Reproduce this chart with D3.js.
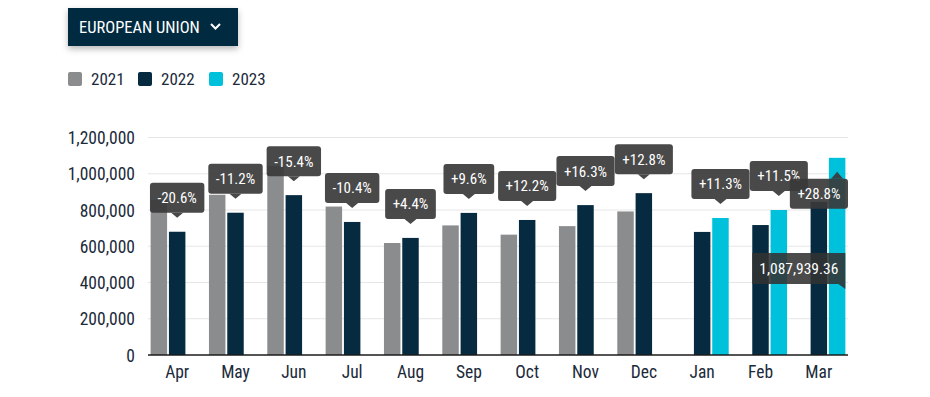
<!DOCTYPE html>
<html>
<head>
<meta charset="utf-8">
<script src="https://cdn.jsdelivr.net/npm/d3@7"></script>
<style>
  html, body { margin: 0; padding: 0; background: #ffffff; }
  svg { display: block; }
  svg text { font-family: 'Roboto Condensed', Roboto, sans-serif; font-stretch: 87.5%; }
</style>
</head>
<body>
<svg id="chart" width="930" height="397"></svg>
<script>
const months = ["Apr","May","Jun","Jul","Aug","Sep","Oct","Nov","Dec","Jan","Feb","Mar"];
const seriesNames = ["2021","2022","2023"];
const values2021 = [856000, 884000, 1043000, 819000, 618000, 715000, 664000, 711000, 792000, null, null, null];
const values2022 = [680000, 785000, 882000, 734000, 646000, 784000, 745000, 827000, 893000, 679000, 717000, 845000];
const values2023 = [null, null, null, null, null, null, null, null, null, 756000, 800000, 1087939.36];
const changeLabels = ["-20.6%","-11.2%","-15.4%","-10.4%","+4.4%","+9.6%","+12.2%","+16.3%","+12.8%","+11.3%","+11.5%","+28.8%"];
const yTicks = [0, 200000, 400000, 600000, 800000, 1000000, 1200000];
const colors = ["#8a8c8d", "#062a40", "#00c1dc"];
const dropdownLabel = "EUROPEAN UNION";
const hoverIndex = 11, hoverSeries = 2;

const svg = d3.select("#chart");
const defs = svg.append("defs");
const f = defs.append("filter").attr("id","shadow").attr("x","-20%").attr("y","-30%").attr("width","140%").attr("height","180%");
f.append("feDropShadow").attr("dx",0).attr("dy",3).attr("stdDeviation",3).attr("flood-color","#000").attr("flood-opacity",0.28);

// Dropdown button
const btn = svg.append("g");
btn.append("rect").attr("x",68).attr("y",8).attr("width",170).attr("height",38).attr("fill","#062a40").attr("filter","url(#shadow)");
btn.append("text").attr("x",79).attr("y",33).attr("fill","#fff").attr("font-size",16.5).attr("font-weight",400)
  .text(dropdownLabel);
btn.append("path").attr("d","M211,24 L215.5,28.5 L220,24").attr("fill","none").attr("stroke","#fff").attr("stroke-width",2);

// Legend
const legend = svg.append("g");
const legendX = [68, 138, 209];
seriesNames.forEach((s,i)=>{
  legend.append("rect").attr("x",legendX[i]).attr("y",72).attr("width",14).attr("height",14).attr("rx",2).attr("fill",colors[i]);
  legend.append("text").attr("x",legendX[i]+23).attr("y",85).attr("font-size",17).attr("fill","#1b2a3a").text(s);
});

// Scales
const x0 = d3.scaleBand().domain(months).range([148, 848]).paddingInner(0.09).paddingOuter(0.045);
const x1 = d3.scaleBand().domain(seriesNames).range([0, x0.bandwidth()]).paddingInner(0.1);
const y = d3.scaleLinear().domain([0, 1200000]).range([355, 137.5]);

// Grid
svg.append("g").selectAll("line").data(yTicks.slice(1)).join("line")
  .attr("x1",148).attr("x2",848).attr("y1",d=>y(d)).attr("y2",d=>y(d))
  .attr("stroke","#e6e6e6").attr("stroke-width",1);

// Y axis labels
const yAxis = d3.axisLeft(y).tickValues(yTicks).tickSize(0).tickPadding(0).tickFormat(d3.format(","));
const yg = svg.append("g").attr("transform","translate(135,0)").call(yAxis).attr("font-family",null).attr("font-size",null);
yg.select(".domain").remove();
yg.selectAll("text").attr("font-size",17.5).attr("fill","#1b2a3a").attr("dy","0.35em");

// Bars
const series = [values2021, values2022, values2023];
const barData = [];
months.forEach((m,i)=>{
  series.forEach((arr,s)=>{ if(arr[i]!=null) barData.push({m, i, s, v: arr[i]}); });
});
svg.append("g").selectAll("rect").data(barData).join("rect")
  .attr("x", d=>x0(d.m)+x1(seriesNames[d.s]))
  .attr("width", x1.bandwidth())
  .attr("y", d=>y(d.v))
  .attr("height", d=>y(0)-y(d.v))
  .attr("fill", d=>colors[d.s]);

// X axis
const xAxis = d3.axisBottom(x0).tickSize(0).tickPadding(11);
const xg = svg.append("g").attr("transform",`translate(0,${y(0)})`).call(xAxis).attr("font-family",null).attr("font-size",null);
xg.select(".domain").attr("stroke","#1b1b1b").attr("stroke-width",1.5).attr("d","M148,0H848");
xg.selectAll("text").attr("font-size",17.5).attr("fill","#1b2a3a").attr("dy","0.71em");

// Change labels
const lbl = svg.append("g");
months.forEach((m,i)=>{
  const s = values2023[i]!=null ? 2 : 1;
  const v = series[s][i];
  const cx = x0(m)+x1(seriesNames[s])+x1.bandwidth()/2;
  const t = lbl.append("g");
  const txt = t.append("text").attr("font-size",15).attr("fill","#fff").attr("text-anchor","middle").text(changeLabels[i]);
  const w = txt.node().getComputedTextLength()+15;
  const h = 30;
  let bx = cx - w/2;
  bx = Math.max(148, Math.min(848 - w, bx));
  let top, tip, path;
  const ty = y(v) - 14;
  if (ty - 5 - h < 130) {
    tip = y(v) + 14;
    top = tip + 7;
    path = `M${cx-6},${top} L${cx},${tip} L${cx+6},${top} Z`;
  } else {
    tip = ty;
    top = tip - 5 - h;
    path = `M${cx-6},${top+h} L${cx},${tip} L${cx+6},${top+h} Z`;
  }
  t.insert("rect","text").attr("x",bx).attr("y",top).attr("width",w).attr("height",h).attr("rx",3).attr("fill","rgba(58,58,58,0.92)");
  t.insert("path","text").attr("d",path).attr("fill","rgba(58,58,58,0.92)");
  txt.attr("x",bx+w/2).attr("y",top+h/2).attr("dy","0.36em");
});

// Hover tooltip
const hv = series[hoverSeries][hoverIndex];
const hx = x0(months[hoverIndex])+x1(seriesNames[hoverSeries])+x1.bandwidth();
const tt = svg.append("g");
const ttText = tt.append("text").attr("font-size",15.5).attr("fill","#fff").attr("text-anchor","middle")
  .text(d3.format(",.2f")(hv));
const tw = ttText.node().getComputedTextLength()+14;
const th = 31;
const tBottom = y(hv*0.36);
const tRight = Math.min(848, hx);
tt.insert("path","text").attr("d",`M${tRight-tw},${tBottom-th} H${tRight} V${tBottom+5} L${tRight-7},${tBottom} H${tRight-tw} Z`)
  .attr("fill","rgba(50,50,50,0.88)");
ttText.attr("x",tRight-tw/2).attr("y",tBottom-th/2).attr("dy","0.36em");
</script>
</body>
</html>
